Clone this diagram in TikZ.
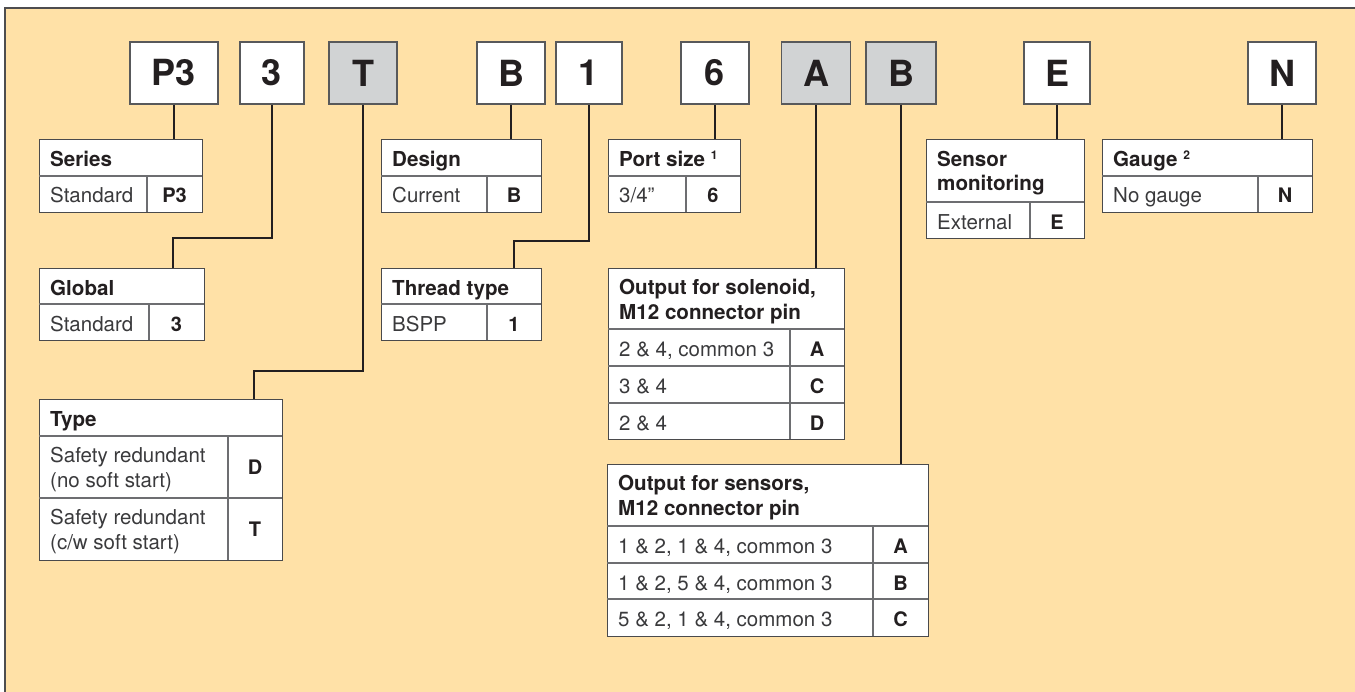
\documentclass[tikz,border=0pt]{standalone}
\usepackage{fontspec}
\setmainfont{TeX Gyre Heros}
\definecolor{peach}{HTML}{FFE1A7}
\definecolor{frameclr}{HTML}{4D4D4F}
\definecolor{ink}{HTML}{231F20}
\definecolor{txt}{HTML}{3A3A3C}
\definecolor{boxedge}{HTML}{58595B}
\definecolor{greybox}{HTML}{D1D3D4}
\definecolor{tabedge}{HTML}{4A4A4C}
\definecolor{ruleclr}{HTML}{6D6E71}
\newcommand\supnum[1]{\raisebox{7pt}{\fontsize{12}{12}\selectfont #1}}
\begin{document}
\begin{tikzpicture}[x=1pt,y=-1pt,
  codebox/.style={draw=boxedge, line width=1.8pt, fill=white, inner sep=0pt,
    font=\fontsize{36}{36}\selectfont\bfseries, text=ink},
  codegrey/.style={codebox, fill=greybox},
  tbl/.style={draw=tabedge, line width=1.4pt, fill=white, inner sep=0pt, anchor=north west},
  divider/.style={draw=ruleclr, line width=1.1pt},
  hd/.style={anchor=base west, inner sep=0pt, font=\fontsize{20.6}{25}\selectfont\bfseries, text=ink},
  tx/.style={anchor=base west, inner sep=0pt, font=\fontsize{20.5}{25}\selectfont, text=txt},
  cd/.style={anchor=base, inner sep=0pt, font=\fontsize{20}{25}\selectfont\bfseries, text=ink},
  link/.style={draw=ink, line width=2.4pt}
]
\useasboundingbox (0,0) rectangle (1355,691);
% background panel with its top and left frame lines
\fill[white] (0,0) rectangle (1355,691);
\fill[peach] (5,8) rectangle (1360,700);
\draw[frameclr, line width=1.6pt] (5,700) -- (5,8) -- (1360,8);

% ---- order code boxes ----
\node[codebox,  minimum width=88pt, minimum height=62pt] (cP)  at (174,73)  {P3};
\node[codebox,  minimum width=64pt, minimum height=62pt] (c3)  at (272,73)  {3};
\node[codegrey, minimum width=68pt, minimum height=62pt] (cT)  at (363,73)  {T};
\node[codebox,  minimum width=68pt, minimum height=62pt] (cB)  at (511,73)  {B};
\node[codebox,  minimum width=66pt, minimum height=62pt] (c1)  at (589,73)  {1};
\node[codebox,  minimum width=68pt, minimum height=62pt] (c6)  at (715,73)  {6};
\node[codegrey, minimum width=69pt, minimum height=62pt] (cA)  at (816,73)  {A};
\node[codegrey, minimum width=70pt, minimum height=62pt] (cB2) at (901,73)  {B};
\node[codebox,  minimum width=66pt, minimum height=62pt] (cE)  at (1057,73) {E};
\node[codebox,  minimum width=68pt, minimum height=62pt] (cN)  at (1282,73) {N};

% ---- option tables ----
% Series
\node[tbl, minimum width=163pt, minimum height=73pt] (series) at (39,139) {};
\draw[divider] (39,176) -- (202,176) (147,176) -- (147,212);
\node[hd] (series-h) at (50,166) {Series};
\node[tx] (series-t) at (50,202) {Standard};
\node[cd] (series-c) at (174.5,202) {P3};

% Global
\node[tbl, minimum width=165pt, minimum height=72pt] (global) at (39,268) {};
\draw[divider] (39,304) -- (204,304) (149,304) -- (149,340);
\node[hd] (global-h) at (50,295) {Global};
\node[tx] (global-t) at (50,331) {Standard};
\node[cd] (global-c) at (176.5,331) {3};

% Type
\node[tbl, minimum width=243pt, minimum height=161pt] (type) at (39,399) {};
\draw[divider] (39,436) -- (282,436) (39,498) -- (282,498) (228,436) -- (228,560);
\node[hd] (type-h) at (50,426) {Type};
\node[tx] (type-t1a) at (50,462) {Safety redundant};
\node[tx] (type-t1b) at (50,487) {(no soft start)};
\node[cd] (type-c1) at (255,474) {D};
\node[tx] (type-t2a) at (50,524) {Safety redundant};
\node[tx] (type-t2b) at (50,549) {(c/w soft start)};
\node[cd] (type-c2) at (255,536) {T};

% Design
\node[tbl, minimum width=160pt, minimum height=73pt] (design) at (381,139) {};
\draw[divider] (381,176) -- (541,176) (487,176) -- (487,212);
\node[hd] (design-h) at (392,166) {Design};
\node[tx] (design-t) at (392,202) {Current};
\node[cd] (design-c) at (514,202) {B};

% Thread type
\node[tbl, minimum width=160pt, minimum height=72pt] (thread) at (381,268) {};
\draw[divider] (381,304) -- (541,304) (487,304) -- (487,340);
\node[hd] (thread-h) at (392,295) {Thread type};
\node[tx] (thread-t) at (392,331) {BSPP};
\node[cd] (thread-c) at (514,331) {1};

% Port size
\node[tbl, minimum width=132pt, minimum height=73pt] (port) at (608,139) {};
\draw[divider] (608,176) -- (740,176) (686,176) -- (686,212);
\node[hd] (port-h) at (619,166) {Port size \supnum{1}};
\node[tx] (port-t) at (619,202) {3/4”};
\node[cd] (port-c) at (713,202) {6};

% Output for solenoid
\node[tbl, minimum width=236pt, minimum height=171pt] (sol) at (608,268) {};
\draw[divider] (608,329) -- (844,329) (608,366) -- (844,366) (608,403) -- (844,403)
  (790,329) -- (790,439);
\node[hd] (sol-h1) at (619,294) {Output for solenoid,};
\node[hd] (sol-h2) at (619,319) {M12 connector pin};
\node[tx] (sol-t1) at (619,356) {2 \& 4, common 3};
\node[cd] (sol-c1) at (817,356) {A};
\node[tx] (sol-t2) at (619,393) {3 \& 4};
\node[cd] (sol-c2) at (817,393) {C};
\node[tx] (sol-t3) at (619,430) {2 \& 4};
\node[cd] (sol-c3) at (817,430) {D};

% Output for sensors
\node[tbl, minimum width=321pt, minimum height=172pt] (sens) at (607,464) {};
\draw[divider] (607,526) -- (928,526) (607,563) -- (928,563) (607,599) -- (928,599)
  (873,526) -- (873,636);
\node[hd] (sens-h1) at (618,490) {Output for sensors,};
\node[hd] (sens-h2) at (618,515) {M12 connector pin};
\node[tx] (sens-t1) at (618,553) {1 \& 2, 1 \& 4, common 3};
\node[cd] (sens-c1) at (900.5,553) {A};
\node[tx] (sens-t2) at (618,590) {1 \& 2, 5 \& 4, common 3};
\node[cd] (sens-c2) at (900.5,590) {B};
\node[tx] (sens-t3) at (618,626) {5 \& 2, 1 \& 4, common 3};
\node[cd] (sens-c3) at (900.5,626) {C};

% Sensor monitoring
\node[tbl, minimum width=158pt, minimum height=99pt] (mon) at (926,139) {};
\draw[divider] (926,202) -- (1084,202) (1030,202) -- (1030,238);
\node[hd] (mon-h1) at (937,166) {Sensor};
\node[hd] (mon-h2) at (937,190) {monitoring};
\node[tx] (mon-t) at (937,229) {External};
\node[cd] (mon-c) at (1057,229) {E};

% Gauge
\node[tbl, minimum width=210pt, minimum height=73pt] (gauge) at (1102,139) {};
\draw[divider] (1102,176) -- (1312,176) (1258,176) -- (1258,212);
\node[hd] (gauge-h) at (1113,166) {Gauge \supnum{2}};
\node[tx] (gauge-t) at (1113,202) {No gauge};
\node[cd] (gauge-c) at (1285,202) {N};

% ---- connectors from code boxes to tables ----
\coordinate (k3) at (173,238);
\coordinate (kT) at (254,371);
\coordinate (k1) at (514,241);
\draw[link] (cP.south) -- (cP.south |- series.north);
\draw[link] (c3.south) |- (k3) -- (k3 |- global.north);
\draw[link] (cT.south) |- (kT) -- (kT |- type.north);
\draw[link] (cB.south) -- (cB.south |- design.north);
\draw[link] (c1.south) |- (k1) -- (k1 |- thread.north);
\draw[link] (c6.south) -- (c6.south |- port.north);
\draw[link] (cA.south) -- (cA.south |- sol.north);
\draw[link] (cB2.south) -- (cB2.south |- sens.north);
\draw[link] (cE.south) -- (cE.south |- mon.north);
\draw[link] (cN.south) -- (cN.south |- gauge.north);
\end{tikzpicture}
\end{document}
